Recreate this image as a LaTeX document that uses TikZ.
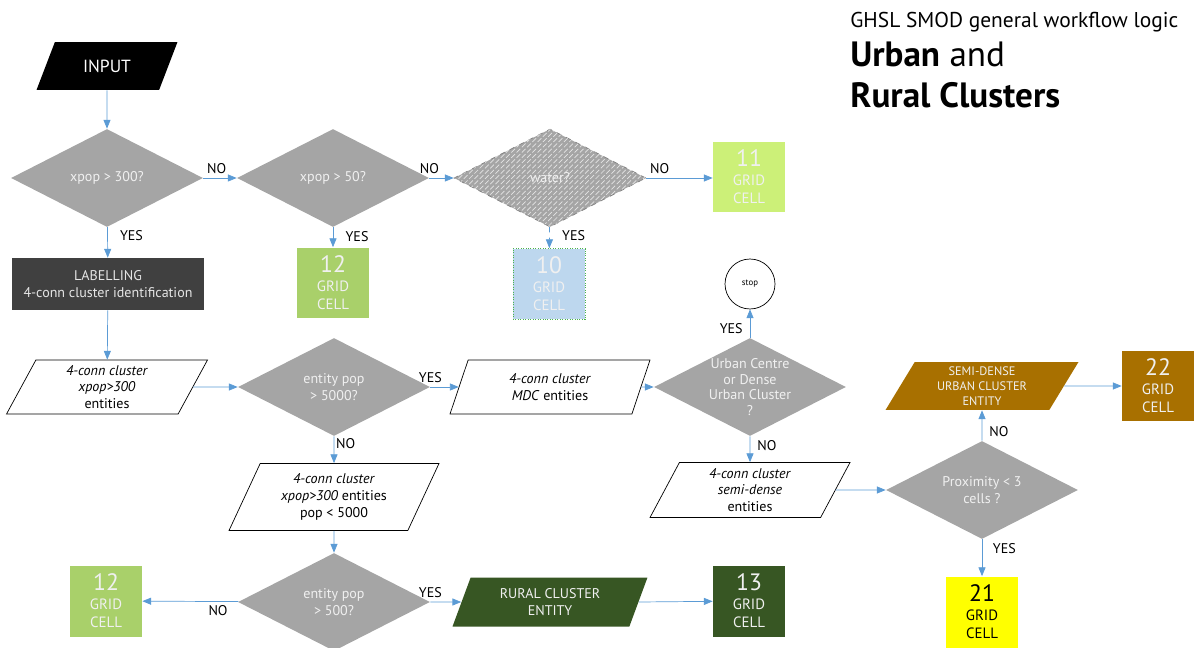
\documentclass[tikz,border=0pt]{standalone}
\usepackage{fontspec}
\setmainfont{PT Sans}
\usepackage{xcolor}
\usetikzlibrary{shapes.geometric, arrows.meta, patterns}

\definecolor{flowblue}{RGB}{91,155,213}
\definecolor{decgray}{RGB}{165,165,165}
\definecolor{labgray}{RGB}{64,64,64}
\definecolor{cellgreen}{RGB}{169,208,106}
\definecolor{celllime}{RGB}{204,240,120}
\definecolor{cellblue}{RGB}{189,215,238}
\definecolor{cellbrown}{RGB}{168,112,0}
\definecolor{celldark}{RGB}{55,86,35}
\definecolor{cellyellow}{RGB}{255,255,0}

\tikzset{
  decision/.style={diamond, aspect=2, fill=decgray, text=white!94!black, inner sep=0pt,
    minimum width=3.84cm, minimum height=1.96cm, align=center, font=\fontsize{8}{10}\selectfont},
  datapara/.style={trapezium, trapezium left angle=56, trapezium right angle=124,
    trapezium stretches body=true, draw=black, fill=white, inner sep=0pt, align=center,
    font=\fontsize{8}{9.5}\selectfont},
  gridcell/.style={rectangle, minimum width=1.44cm, minimum height=1.42cm, inner sep=0pt,
    align=center, text=white!94!black, font=\fontsize{8.5}{10.5}\selectfont},
  flow/.style={draw=flowblue, -{Triangle[length=5pt,width=4pt]}},
  lbl/.style={font=\fontsize{8}{9}\selectfont, inner sep=2pt, text=black},
}
\newcommand{\cellnum}[1]{{\fontsize{13.5}{14}\selectfont #1}\\GRID\\CELL}

\begin{document}
\begin{tikzpicture}[x=0.02cm, y=-0.02cm]
\useasboundingbox (0,0) rectangle (1195,648);

% title
\node[anchor=base west, inner sep=0pt, font=\fontsize{12.2}{14}\selectfont] (title) at (850,28) {GHSL SMOD general workflow logic};
\node[anchor=base west, inner sep=0pt, font=\fontsize{20}{22}\selectfont] (urban) at (850,67) {\textbf{Urban} and};
\node[anchor=base west, inner sep=0pt, font=\fontsize{20}{22}\selectfont] (rural) at (850,108) {\textbf{Rural Clusters}};

% top row
\node[trapezium, trapezium left angle=53, trapezium right angle=127, trapezium stretches body=true,
  fill=black, text=white, minimum width=2.82cm, minimum height=0.96cm,
  font=\fontsize{10}{12}\selectfont] (input) at (107,66) {INPUT};
\node[decision] (pop300) at (107,178) {xpop > 300?};
\node[decision] (pop50) at (333,178) {xpop > 50?};
\node[decision, draw=gray, dashed, postaction={pattern=north east lines, pattern color=white!80!gray}] (water) at (550,178) {water?};
\node[gridcell, fill=celllime] (c11) at (749,177) {\cellnum{11}};

% second row
\node[rectangle, fill=labgray, text=white!90!black, minimum width=3.84cm, minimum height=1.04cm,
  align=center, font=\fontsize{8}{10}\selectfont] (labelling) at (108,284) {LABELLING\\4-conn cluster identification};
\node[gridcell, fill=cellgreen] (c12a) at (333,283) {\cellnum{12}};
\node[gridcell, fill=cellblue, draw=green!40!gray, densely dotted] (c10) at (549,284) {\cellnum{10}};
\node[circle, draw=black, minimum size=1cm, inner sep=0pt, font=\fontsize{5}{6}\selectfont] (stop) at (750,284) {stop};

% middle row
\node[datapara, minimum width=4.02cm, minimum height=1.08cm] (ent300) at (107,387) {\textit{4-conn cluster}\\\textit{xpop>300}\\entities};
\node[decision] (pop5000) at (334,387) {entity pop\\> 5000?};
\node[datapara, minimum width=4cm, minimum height=1.08cm] (mdc) at (550,387) {\textit{4-conn cluster}\\\textit{MDC} entities};
\node[decision, inner sep=-4pt, font=\fontsize{8}{9}\selectfont] (ucdc) at (750,387) {Urban Centre\\or Dense\\Urban Cluster\\?};
\node[datapara, trapezium left angle=53, trapezium right angle=127, fill=cellbrown, draw=none,
  text=white!94!black, minimum width=3.86cm, minimum height=0.96cm,
  font=\fontsize{7}{8.5}\selectfont] (sduc) at (982,386) {SEMI-DENSE\\URBAN CLUSTER\\ENTITY};
\node[gridcell, fill=cellbrown] (c22) at (1158,386) {\cellnum{22}};

% lower rows
\node[datapara, minimum width=4.2cm, minimum height=1.34cm] (ent5000) at (334,497) {\textit{4-conn cluster}\\\textit{xpop>300} entities\\pop < 5000};
\node[datapara, minimum width=4cm, minimum height=1.1cm] (semi) at (750,490) {\textit{4-conn cluster}\\\textit{semi-dense}\\entities};
\node[decision] (prox) at (982,490) {Proximity < 3\\cells ?};
\node[gridcell, fill=cellyellow, text=black] (c21) at (982,612) {\cellnum{21}};
\node[decision] (pop500) at (334,602) {entity pop\\> 500?};
\node[gridcell, fill=cellgreen] (c12b) at (106,601) {\cellnum{12}};
\node[datapara, fill=celldark, draw=none, text=white!94!black, minimum width=3.9cm, minimum height=0.98cm] (ruralent) at (550,602) {RURAL CLUSTER\\ENTITY};
\node[gridcell, fill=celldark] (c13) at (749,601) {\cellnum{13}};

% connectors
\draw[flow] (input) -- (pop300);
\draw[flow] (pop300) -- node[lbl, pos=0, above right]{NO} (pop50);
\draw[flow] (pop50) -- node[lbl, pos=0, above]{NO} (water);
\draw[flow] (water.east) -- node[lbl, pos=0, above right]{NO} (water.east -| c11.west);
\draw[flow] (pop300) -- node[lbl, pos=0, below right, xshift=5pt]{YES} (labelling);
\draw[flow] (pop50) -- node[lbl, pos=0, below right, xshift=5pt]{YES} (c12a);
\draw[flow, dashed] (water) -- node[lbl, pos=0, below right, xshift=5pt]{YES} (c10);
\draw[flow] (labelling) -- (ent300);
\draw[flow] (ent300.east) -- (pop5000);
\draw[flow] (pop5000) -- node[lbl, pos=0, above]{YES} (mdc);
\draw[flow] (mdc.east) -- (ucdc);
\draw[flow] (ucdc) -- node[lbl, pos=0, above left, xshift=-2pt]{YES} (stop);
\draw[flow] (ucdc) -- node[lbl, pos=0, below right, xshift=2pt]{NO} (semi);
\draw[flow] (semi.east) -- (prox);
\draw[flow] (prox) -- node[lbl, pos=0, above right, xshift=2pt]{NO} (sduc);
\draw[flow] (sduc.east) -- (c22);
\draw[flow] (prox) -- node[lbl, pos=0, below right, xshift=4pt]{YES} (c21);
\draw[flow] (pop5000) -- node[lbl, pos=0, below right, inner sep=1pt]{NO} (ent5000);
\draw[flow] (ent5000) -- (pop500);
\draw[flow] (pop500) -- node[lbl, pos=0, below left, xshift=-4pt]{NO} (c12b);
\draw[flow] (pop500) -- node[lbl, pos=0, above]{YES} (ruralent);
\draw[flow] (ruralent.east) -- (c13);
\end{tikzpicture}
\end{document}
